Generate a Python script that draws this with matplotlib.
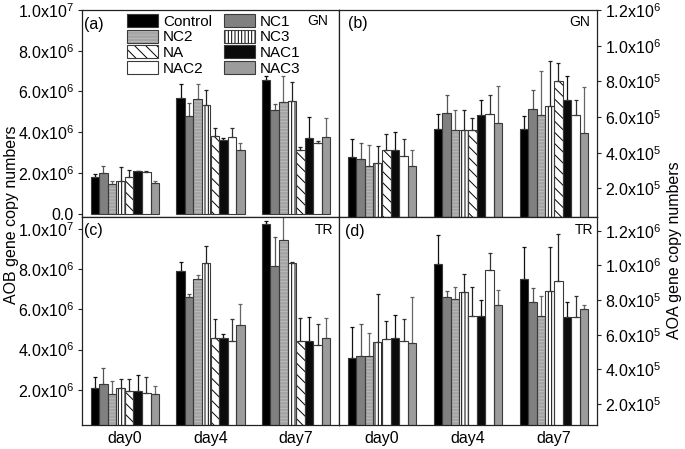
import matplotlib
matplotlib.use('Agg')
import matplotlib.pyplot as plt
import numpy as np
from matplotlib.patches import Patch
from matplotlib.legend_handler import HandlerTuple
from matplotlib.ticker import FuncFormatter, FixedLocator

plt.rcParams['font.family'] = ['Liberation Sans', 'DejaVu Sans']
plt.rcParams['mathtext.fontset'] = 'custom'
plt.rcParams['mathtext.rm'] = 'Liberation Sans'
plt.rcParams['mathtext.it'] = 'Liberation Sans:italic'
plt.rcParams['mathtext.bf'] = 'Liberation Sans:bold'
plt.rcParams['hatch.linewidth'] = 0.7

days = ['day0', 'day4', 'day7']
series = ['Control', 'NC1', 'NC2', 'NC3', 'NA', 'NAC1', 'NAC2', 'NAC3']

# (a) AOB, GN  (x1e6)
aob_gn_mean = [[1.79, 5.66, 6.55], [1.98, 4.78, 5.09], [1.43, 5.61, 5.48], [1.59, 5.33, 5.53],
               [1.79, 3.80, 3.14], [2.08, 3.61, 3.69], [2.03, 3.77, 3.45], [1.51, 3.14, 3.74]]
aob_gn_err = [[0.13, 0.68, 0.20], [0.38, 0.63, 0.28], [0.15, 0.73, 1.27], [0.69, 0.73, 0.93],
              [0.36, 0.40, 0.11], [0.03, 0.11, 1.06], [0.05, 0.42, 0.13], [0.07, 0.33, 0.94]]
# (b) AOA, GN  (x1e5)
aoa_gn_mean = [[3.76, 5.34, 5.34], [3.67, 6.24, 6.46], [3.26, 5.25, 6.09], [3.45, 5.25, 6.61],
               [4.13, 5.25, 8.00], [4.13, 6.09, 6.98], [3.80, 6.18, 6.09], [3.26, 5.68, 5.12]]
aoa_gn_err = [[1.03, 0.84, 0.70], [0.87, 1.00, 1.03], [1.15, 1.15, 2.48], [0.93, 1.15, 2.55],
              [0.94, 0.71, 1.03], [1.03, 0.89, 1.31], [0.95, 1.08, 0.89], [0.91, 2.05, 2.55]]
# (c) AOB, TR  (x1e6)
aob_tr_mean = [[2.08, 7.92, 10.25], [2.28, 6.63, 8.17], [1.78, 7.53, 9.47], [2.08, 8.33, 8.33],
               [1.95, 4.58, 4.45], [1.92, 4.58, 4.45], [1.83, 4.45, 4.25], [1.80, 5.25, 4.58]]
aob_tr_err = [[0.55, 0.42, 0.13], [0.80, 0.15, 1.45], [0.67, 0.17, 1.30], [0.47, 0.83, 0.04],
              [0.60, 0.92, 1.13], [0.83, 0.20, 1.17], [0.80, 1.05, 1.05], [0.40, 1.03, 0.97]]
# (d) AOA, TR  (x1e5)
aoa_tr_mean = [[4.65, 10.06, 9.23], [4.79, 8.19, 7.90], [4.79, 8.09, 7.10], [5.58, 8.47, 8.55],
               [5.77, 7.07, 9.09], [5.81, 7.10, 7.01], [5.62, 9.73, 7.03], [5.52, 7.70, 7.47]]
aoa_tr_err = [[1.78, 1.70, 1.85], [1.80, 0.33, 0.77], [1.31, 0.66, 1.12], [2.78, 1.01, 2.53],
              [1.04, 1.68, 2.71], [1.31, 0.93, 0.89], [1.29, 1.00, 1.23], [2.66, 0.91, 0.27]]

faces = ['#000000', '#808080', '#a4a4a4', '#ffffff', '#ffffff', '#0b0b0b', '#ffffff', '#9c9c9c']
hatches = [None, None, '-----', '|||||', '\\\\\\', None, None, None]
hatch_cols = ['#000000', '#808080', '#bcbcbc', '#000000', '#000000', '#0b0b0b', '#ffffff', '#9c9c9c']
err_cols = ['#111111', '#555555', '#666666', '#222222', '#222222', '#111111', '#333333', '#666666']
edge = '#3a3a3a'

W, H = 685, 449
fig = plt.figure(figsize=(W / 100, H / 100), dpi=100)

def ax_at(x0, y0, x1, y1):
    return fig.add_axes([x0 / W, 1 - y1 / H, (x1 - x0) / W, (y1 - y0) / H])

axa = ax_at(82, 10, 339, 217)
axb = ax_at(339, 10, 597, 217)
axc = ax_at(82, 217, 339, 425)
axd = ax_at(339, 217, 597, 425)

def sci(v, pos):
    if v == 0:
        return '0.0'
    e = int(np.floor(np.log10(v) + 1e-9))
    m = v / 10 ** e
    return f'{m:.1f}x10$^{{{e}}}$'

FS = 11.5
bw = 0.1
xg = np.arange(len(days))

def draw(ax, means, errs, scale, no_hatch=()):
    for i in range(len(series)):
        x = xg + (i - 3.5) * bw
        y = np.array(means[i]) * scale
        e = np.array(errs[i]) * scale
        h = hatches[i] if i not in no_hatch else None
        ax.bar(x, y, width=bw, color=faces[i], hatch=h, edgecolor=hatch_cols[i] if h else faces[i],
               linewidth=0, zorder=2)
        ax.bar(x, y, width=bw, fill=False, edgecolor=edge, linewidth=0.8, zorder=3)
        ax.errorbar(x, y, yerr=[np.zeros_like(e), e], fmt='none', ecolor=err_cols[i],
                    elinewidth=0.9, capsize=1.6, capthick=0.9, zorder=2.5)
    ax.set_xlim(-0.5, 2.5)
    for s in ax.spines.values():
        s.set_color('#222222')
        s.set_linewidth(0.9)
    ax.yaxis.set_major_formatter(FuncFormatter(sci))
    ax.tick_params(axis='y', labelsize=FS, length=3, width=0.8, color='#222222', pad=3)
    ax.tick_params(axis='x', length=0, labelsize=FS, pad=4)

draw(axa, aob_gn_mean, aob_gn_err, 1e6)
draw(axb, aoa_gn_mean, aoa_gn_err, 1e5)
draw(axc, aob_tr_mean, aob_tr_err, 1e6)
draw(axd, aoa_tr_mean, aoa_tr_err, 1e5, no_hatch=(4,))

axa.set_ylim(-0.17e6, 1.0e7)
axa.yaxis.set_major_locator(FixedLocator([0, 2e6, 4e6, 6e6, 8e6, 1e7]))
axc.set_ylim(0.25e6, 10.6e6)
axc.yaxis.set_major_locator(FixedLocator([2e6, 4e6, 6e6, 8e6, 1e7]))
axb.set_ylim(0.04e6, 1.2e6)
axd.set_ylim(0.078e6, 1.28e6)
for ax in (axb, axd):
    ax.yaxis.set_major_locator(FixedLocator([2e5, 4e5, 6e5, 8e5, 1e6, 1.2e6]))
    ax.yaxis.tick_right()
    ax.tick_params(axis='y', left=False, right=True)

for ax in (axa, axb):
    ax.set_xticks(xg)
    ax.set_xticklabels([])
for ax in (axc, axd):
    ax.set_xticks(xg)
    ax.set_xticklabels(days)

axa.text(0.008, 0.932, '(a)', transform=axa.transAxes, fontsize=FS, va='center', ha='left')
axa.text(0.957, 0.947, 'GN', transform=axa.transAxes, fontsize=10, va='center', ha='right')
axb.text(0.035, 0.937, '(b)', transform=axb.transAxes, fontsize=FS, va='center', ha='left')
axb.text(0.973, 0.942, 'GN', transform=axb.transAxes, fontsize=10, va='center', ha='right')
axc.text(0.008, 0.933, '(c)', transform=axc.transAxes, fontsize=FS, va='center', ha='left')
axc.text(0.977, 0.937, 'TR', transform=axc.transAxes, fontsize=10, va='center', ha='right')
axd.text(0.025, 0.93, '(d)', transform=axd.transAxes, fontsize=FS, va='center', ha='left')
axd.text(0.984, 0.937, 'TR', transform=axd.transAxes, fontsize=10, va='center', ha='right')

handles = []
for i in range(len(series)):
    fill = Patch(facecolor=faces[i], hatch=hatches[i], edgecolor=hatch_cols[i] if hatches[i] else faces[i], linewidth=0)
    outline = Patch(fill=False, edgecolor=edge, linewidth=0.8)
    handles.append((fill, outline))
order = [0, 2, 4, 6, 1, 3, 5, 7]
axa.legend([handles[k] for k in order], [series[k] for k in order], ncol=2, loc='upper left',
           bbox_to_anchor=((127 - 82) / 257, 1 - 4 / 207),
           frameon=False, fontsize=11, handlelength=2.0, handleheight=0.95, handletextpad=0.35,
           labelspacing=0.05, columnspacing=0.8, borderpad=0, borderaxespad=0,
           handler_map={tuple: HandlerTuple(ndivide=1, pad=0)})

fig.text(12 / W, 1 - 215 / H, 'AOB gene copy numbers', rotation=90, va='center', ha='center', fontsize=FS)
fig.text(675 / W, 1 - 250 / H, 'AOA gene copy numbers', rotation=90, va='center', ha='center', fontsize=FS)

fig.savefig('out.png', dpi=100)
